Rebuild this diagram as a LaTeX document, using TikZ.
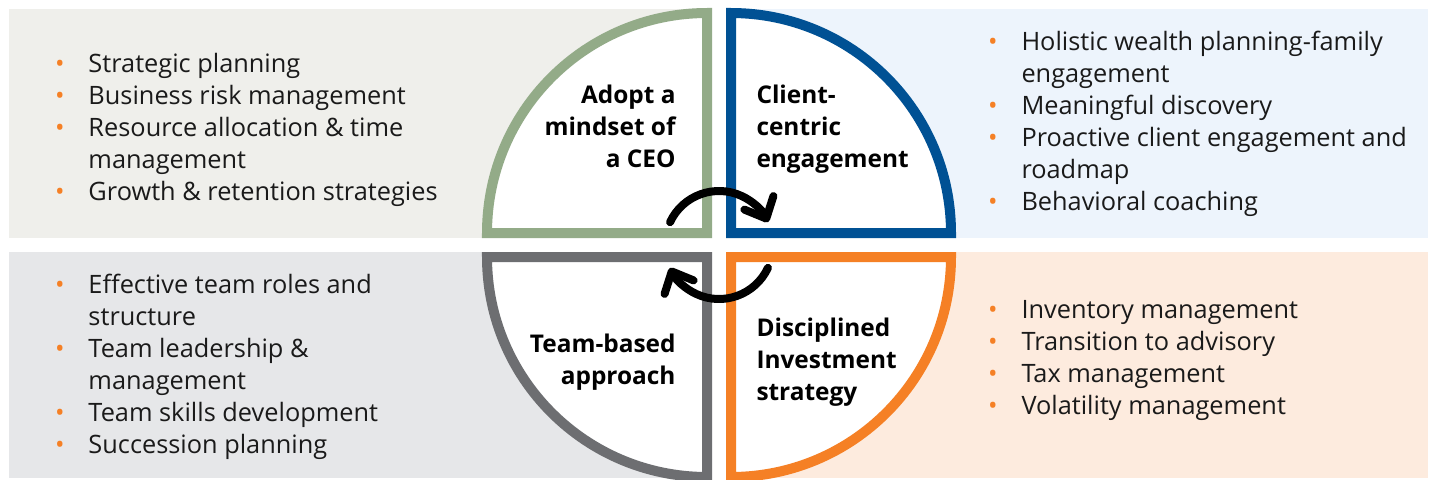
\documentclass[tikz,border=0pt]{standalone}
\usepackage{fontspec}
\setmainfont{Open Sans}
\usetikzlibrary{arrows.meta}

\definecolor{ceogreen}{RGB}{147,171,136}
\definecolor{clientblue}{RGB}{0,81,148}
\definecolor{teamgray}{RGB}{109,110,113}
\definecolor{investorange}{RGB}{245,128,37}
\definecolor{ceobg}{RGB}{239,239,235}
\definecolor{clientbg}{RGB}{237,244,252}
\definecolor{teambg}{RGB}{230,231,233}
\definecolor{investbg}{RGB}{253,235,222}
\definecolor{listtext}{RGB}{26,26,26}

\newcommand{\bul}{\makebox[27pt][l]{\hspace{2pt}\textcolor{investorange}{\textbullet}}}
\newcommand{\cnt}{\hspace*{27pt}}

\tikzset{every picture/.style={line width=0.75pt},
  quad/.style={line width=7.5pt, fill=white, line join=miter},
  bullets/.style={anchor=north west, align=left, inner sep=0pt, text=listtext, font=\fontsize{19}{24}\selectfont},
  quadlabel/.style={inner sep=0pt, font=\bfseries\fontsize{18.3}{24}\selectfont},
  cycle arrow/.style={line width=6pt, line cap=round, -{Straight Barb[length=13pt,width=24pt,round]}}}

\begin{document}
\begin{tikzpicture}[x=0.75pt,y=0.75pt,yscale=-1,xscale=1]
	\clip (0,0) rectangle (1432,479);
	\fill[white] (0,0) rectangle (1432,479);

	%Shape: Rectangle [panels]
	\fill[ceobg] (9,9) rectangle (712,238);
	\fill[clientbg] (726,9) rectangle (1428,238);
	\fill[teambg] (9,252) rectangle (712,478);
	\fill[investbg] (726,252) rectangle (1428,478);

	%Shape: Quarter circles
	\draw[quad, draw=ceogreen] (707,233) -- (487,233) arc[start angle=180, end angle=270, radius=220] -- cycle;
	\draw[quad, draw=clientblue] (731,233) -- (951,233) arc[start angle=0, end angle=-90, radius=220] -- cycle;
	\draw[quad, draw=teamgray] (707,257) -- (487,257) arc[start angle=180, end angle=90, radius=220] -- cycle;
	\draw[quad, draw=investorange] (731,257) -- (951,257) arc[start angle=0, end angle=90, radius=220] -- cycle;

	% Text Node
	\node[quadlabel, anchor=north east, align=right] (ceo) at (676,84) {Adopt a\\mindset of\\a CEO};
	% Text Node
	\node[quadlabel, anchor=north west, align=left] (client) at (756,84) {Client-\\centric\\engagement};
	% Text Node
	\node[quadlabel, anchor=north east, align=right] (team) at (676,333) {Team-based\\approach};
	% Text Node
	\node[quadlabel, anchor=north west, align=left] (invest) at (756,317) {Disciplined\\Investment\\strategy};

	% Text Node
	\node[bullets] (ceolist) at (52,53) {\bul Strategic planning\\\bul Business risk management\\\bul Resource allocation \& time\\\cnt management\\\bul Growth \& retention strategies};
	% Text Node
	\node[bullets] (clientlist) at (985,31) {\bul Holistic wealth planning-family\\\cnt engagement\\\bul Meaningful discovery\\\bul Proactive client engagement and\\\cnt roadmap\\\bul Behavioral coaching};
	% Text Node
	\node[bullets] (teamlist) at (52,274) {\bul Effective team roles and\\\cnt structure\\\bul Team leadership \&\\\cnt management\\\bul Team skills development\\\bul Succession planning};
	% Text Node
	\node[bullets] (investlist) at (985,300) {\bul Inventory management\\\bul Transition to advisory\\\bul Tax management\\\bul Volatility management};

	%Curve Lines [cycle arrows]
	\coordinate (hub) at (719,245);
	\draw[cycle arrow] (hub) ++(-155:54) arc[start angle=-155, end angle=-25, radius=54];
	\draw[cycle arrow] (hub) ++(25:54) arc[start angle=25, end angle=155, radius=54];

\end{tikzpicture}
\end{document}
